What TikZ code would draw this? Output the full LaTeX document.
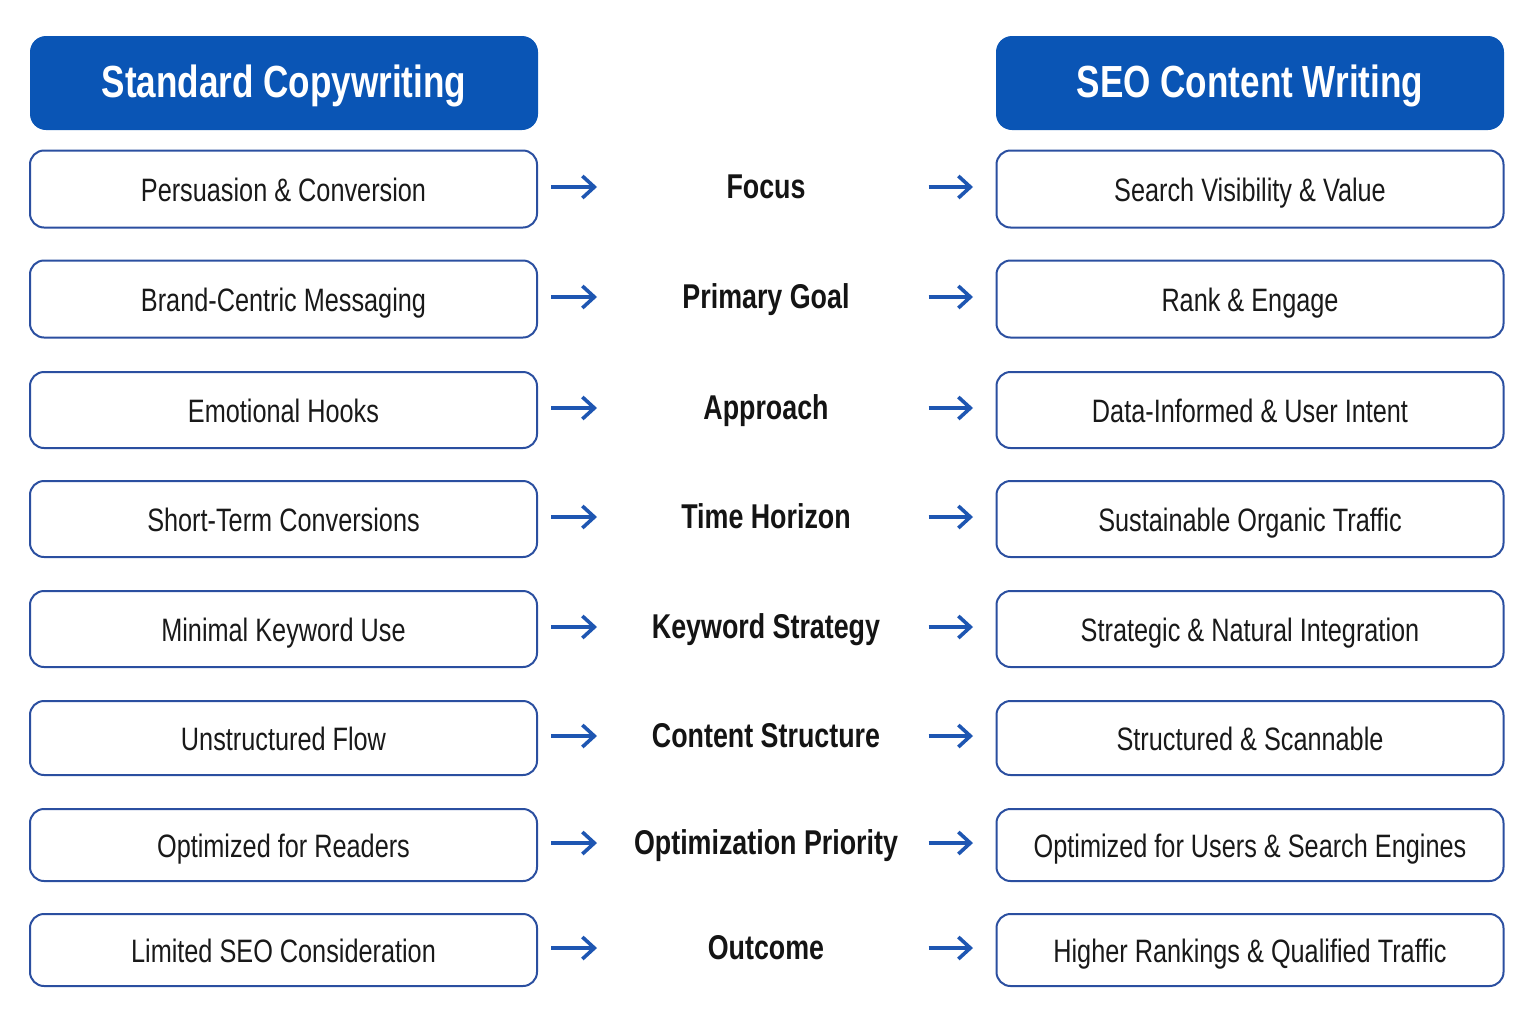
\documentclass[tikz,border=0pt]{standalone}
\usepackage{fontspec}
\setmainfont{Liberation Sans}[FakeStretch=0.78]
\usetikzlibrary{arrows.meta}

\definecolor{headblue}{HTML}{0A55B5}
\definecolor{edgeblue}{HTML}{2B4FA0}
\definecolor{arrowblue}{HTML}{1E56B2}

\tikzset{
    header/.style={rounded corners=8, fill=headblue, text=white, font=\fontsize{22.5}{26}\selectfont\bfseries,
        minimum width=254pt, minimum height=47pt, text height=18pt, text depth=4pt},
    itembox/.style={rounded corners=7, draw=edgeblue, line width=1pt, fill=white, text=black!90,
        font=\fontsize{16.2}{20}\selectfont, minimum width=253.5pt, text height=15pt, text depth=3pt},
    aspect/.style={text=black!92, font=\fontsize{17.2}{21}\selectfont\bfseries, text height=13pt, text depth=4pt},
    arr/.style={draw=arrowblue, line width=1.8pt, -{Straight Barb[length=6pt, width=11pt, line width=1.8pt]}}
}

\begin{document}
\begin{tikzpicture}[x=0.5pt, y=-0.5pt]

    \useasboundingbox (0,0) rectangle (1536,1023);

    \node[header] (headL) at (284,83) {Standard Copywriting};
    \node[header] (headR) at (1250,83) {SEO Content Writing};

    \foreach \i/\y/\h/\links/\mitte/\rechts in {
        1/189/77/Persuasion \& Conversion/Focus/Search Visibility \& Value,
        2/299/77/Brand-Centric Messaging/Primary Goal/Rank \& Engage,
        3/410/76/Emotional Hooks/Approach/Data-Informed \& User Intent,
        4/519/76/Short-Term Conversions/Time Horizon/Sustainable Organic Traffic,
        5/629/76/Minimal Keyword Use/Keyword Strategy/Strategic \& Natural Integration,
        6/738/74/Unstructured Flow/Content Structure/Structured \& Scannable,
        7/845/72/Optimized for Readers/Optimization Priority/Optimized for Users \& Search Engines,
        8/950/72/Limited SEO Consideration/Outcome/Higher Rankings \& Qualified Traffic%
    } {
        \node[itembox, minimum height=\h*0.5pt] (left\i) at (283.5,\y) {\links};
        \node[itembox, minimum height=\h*0.5pt] (right\i) at (1250,\y) {\rechts};
        \node[aspect] (mid\i) at (766,\y) {\mitte};

        \coordinate (inL\i) at (597,\y-2);
        \coordinate (inR\i) at (973,\y-2);

        \draw[arr] ([xshift=6.5pt, yshift=1pt]left\i.east) -- (inL\i);
        \draw[arr] ([xshift=-33.5pt, yshift=1pt]right\i.west) -- (inR\i);
    }

\end{tikzpicture}
\end{document}
